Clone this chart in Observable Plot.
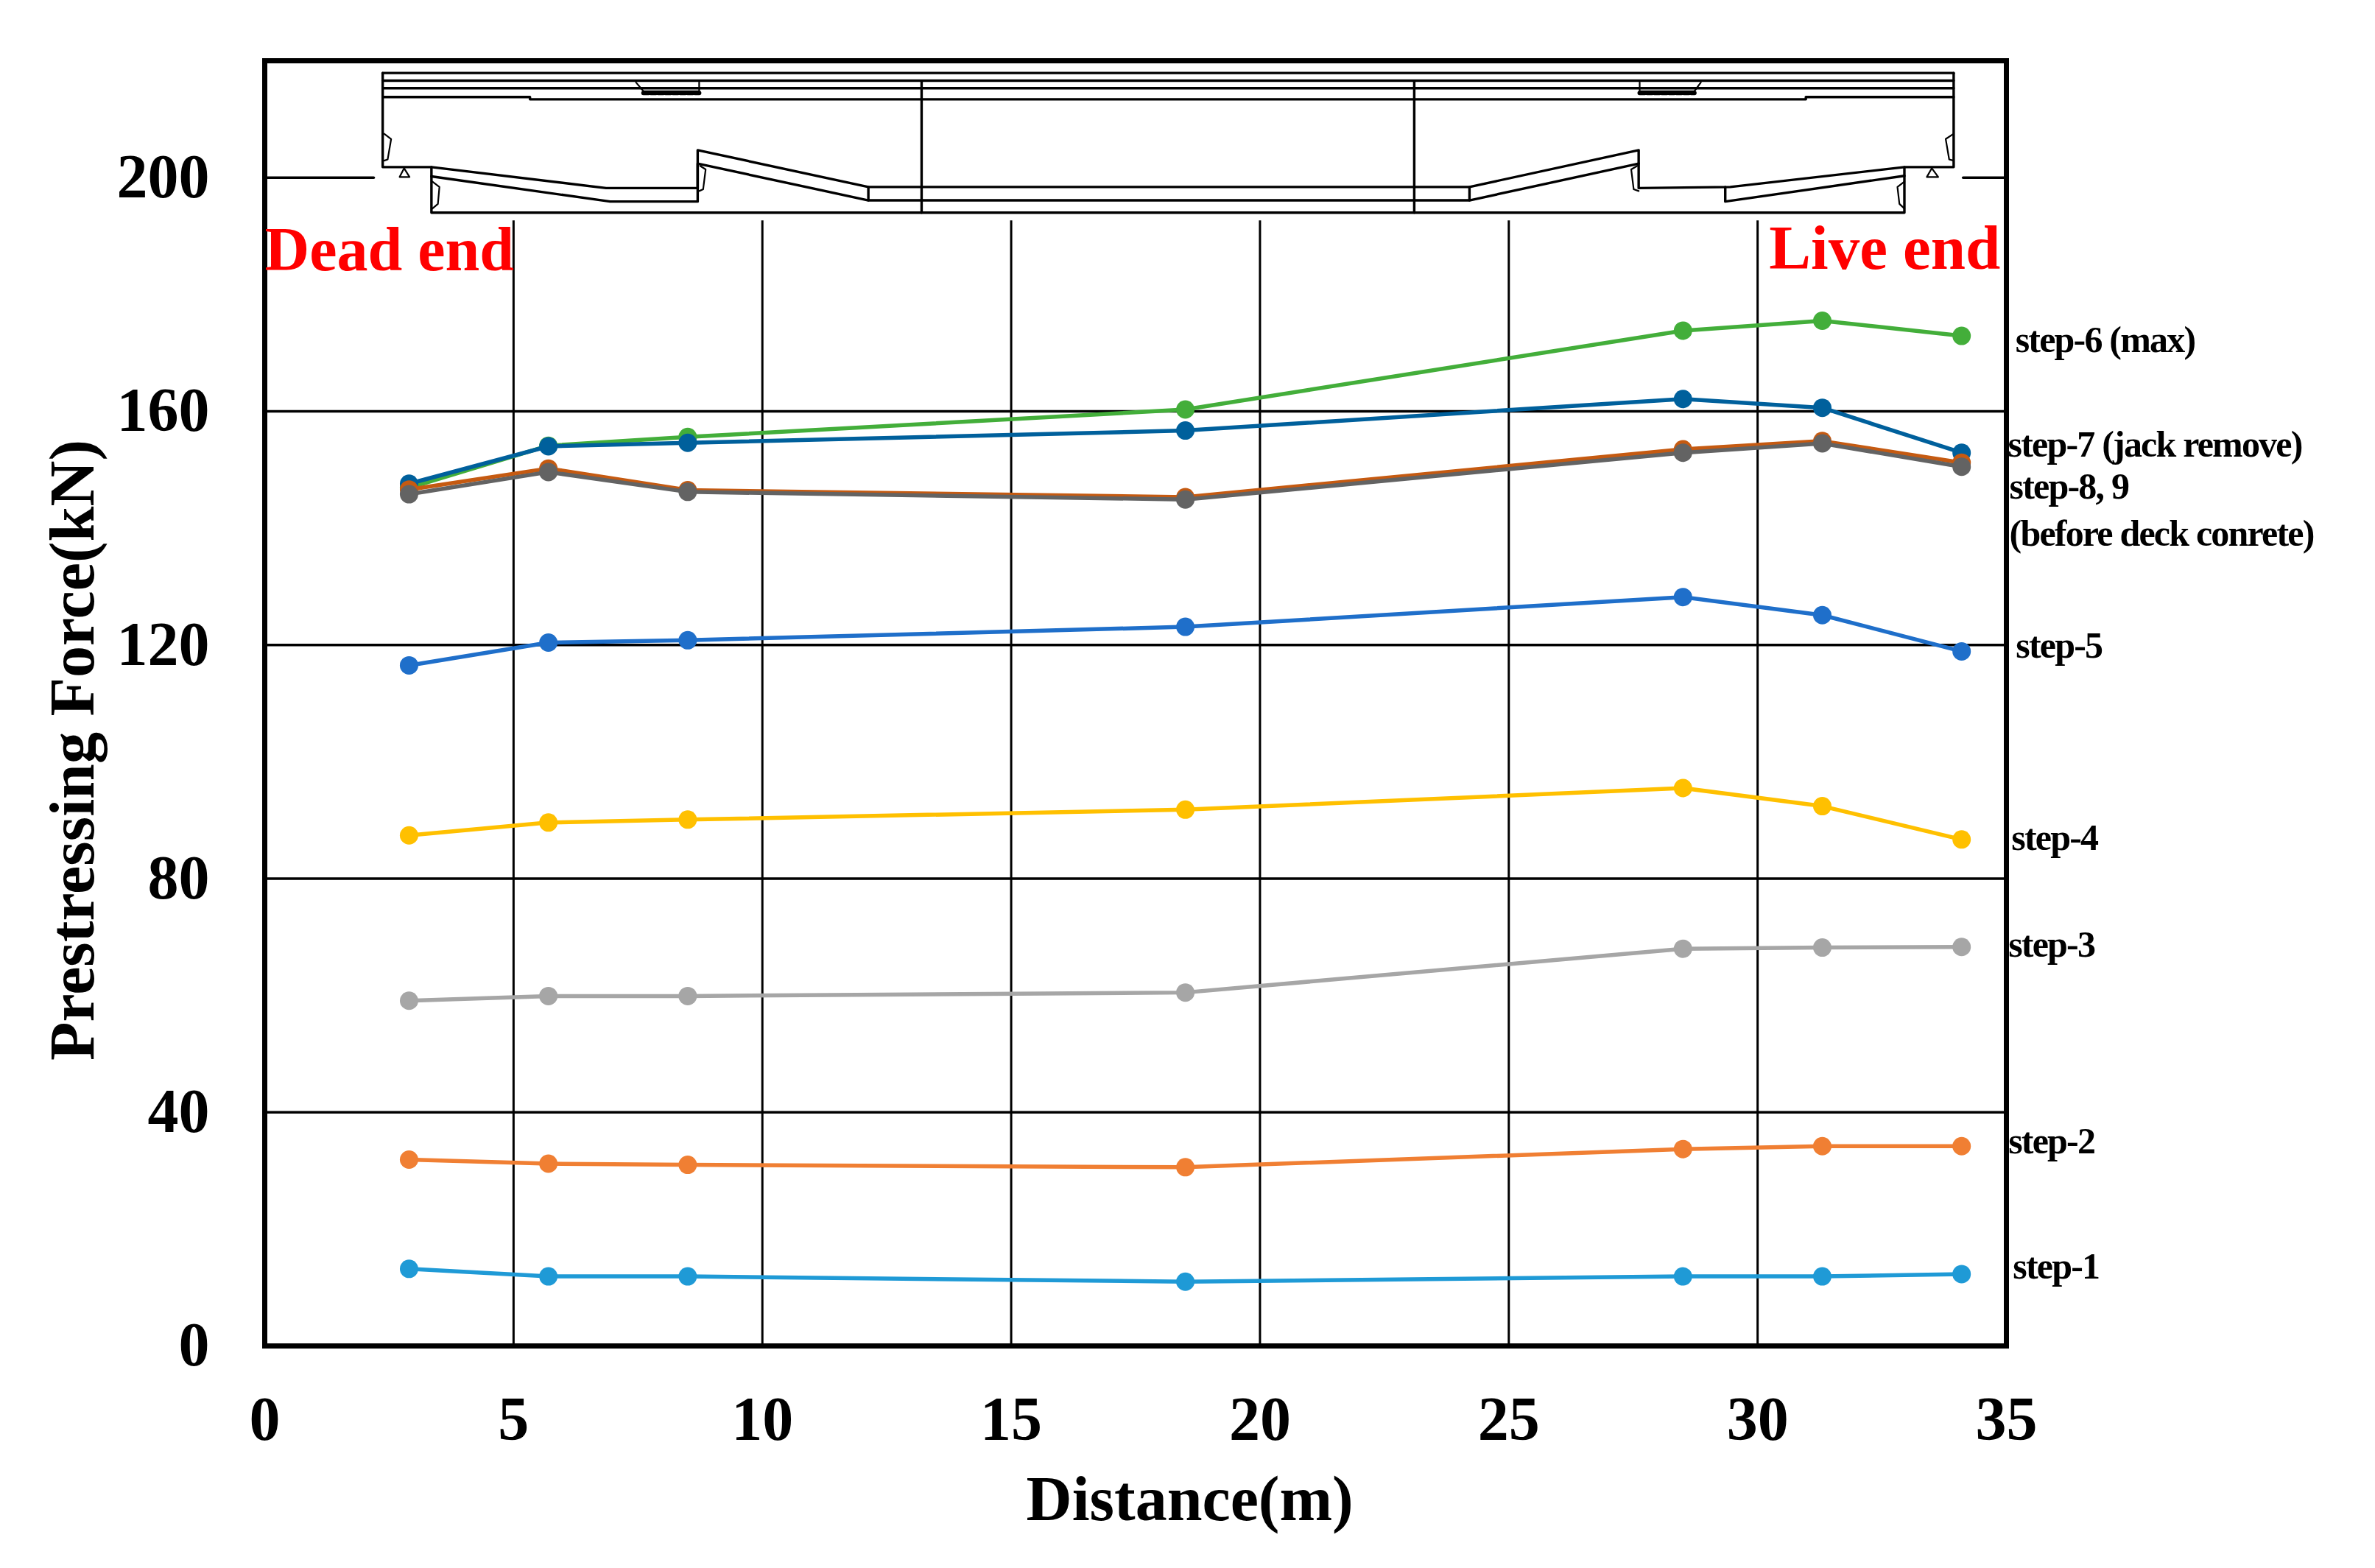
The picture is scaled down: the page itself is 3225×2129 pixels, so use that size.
<!DOCTYPE html>
<html><head><meta charset="utf-8">
<script src="https://cdn.jsdelivr.net/npm/d3@7"></script>
<script src="https://cdn.jsdelivr.net/npm/@observablehq/plot@0.6"></script>
<style>html,body{margin:0;padding:0;background:#fff}svg{display:block}</style>
</head><body><div id="chart"></div>
<script>
const distance = [2.9, 5.7, 8.5, 18.5, 28.5, 31.3, 34.1];
const step1 = [13.2, 11.9, 11.9, 11.0, 11.9, 11.9, 12.3];
const step2 = [31.9, 31.2, 31.0, 30.6, 33.7, 34.2, 34.2];
const step3 = [59.1, 59.9, 59.9, 60.5, 68.0, 68.2, 68.3];
const step4 = [87.4, 89.6, 90.1, 91.8, 95.5, 92.4, 86.7];
const step5 = [116.5, 120.4, 120.8, 123.1, 128.2, 125.1, 118.9];
const step6 = [146.9, 154.1, 155.6, 160.3, 173.8, 175.5, 172.9];
const step7 = [147.6, 154.0, 154.6, 156.7, 162.1, 160.6, 152.9];
const step8 = [146.6, 150.2, 146.5, 145.3, 153.5, 154.9, 151.2];
const step9 = [145.8, 149.6, 146.2, 144.9, 152.9, 154.5, 150.5];

const seriesValues = [step1, step2, step3, step4, step5, step6, step7, step8, step9];
const seriesColors = ["#1f9ad6", "#f07f33", "#a6a6a6", "#ffc000", "#1f6fca", "#43ae3a", "#00609c", "#c55a11", "#636363"];

const xTicks = [0, 5, 10, 15, 20, 25, 30, 35];
const yTicks = [0, 40, 80, 120, 160, 200];
const gridX = [5, 10, 15, 20, 25, 30];
const gridY = [40, 80, 120, 160];

const stepLabels = ["step-6 (max)", "step-7 (jack remove)", "step-8, 9", "(before deck conrete)", "step-5", "step-4", "step-3", "step-2", "step-1"];
const stepLabelX = [35.18, 35.03, 35.06, 35.06, 35.19, 35.1, 35.04, 35.04, 35.13];
const stepLabelY = [172.2, 154.3, 147.1, 139.0, 119.8, 86.9, 68.7, 35.0, 13.5];

// Girder outline (distance in m, height on the force axis)
const girderLines = [
  [[2.37,217.9],[33.94,217.9]],
  [[2.37,216.6],[33.94,216.6]],
  [[2.37,215.3],[33.94,215.3]],
  [[2.37,213.8],[5.33,213.8],[5.33,213.4],[30.97,213.4],[30.97,213.8],[33.94,213.8]],
  [[2.37,217.9],[2.37,201.8],[3.35,201.8],[3.35,194.0],[32.95,194.0],[32.95,201.8],[33.94,201.8],[33.94,217.9]],
  [[3.35,201.8],[6.86,198.2],[8.70,198.2],[8.70,204.7],[12.13,198.4],[24.21,198.4],[27.61,204.7],[27.61,198.2],[29.45,198.4],[32.95,201.8]],
  [[3.35,200.2],[6.94,195.9],[8.70,195.9],[8.70,202.4],[12.13,196.1],[24.21,196.1],[27.61,202.4]],
  [[29.35,198.4],[29.35,195.9],[32.95,200.3]],
  [[12.13,198.4],[12.13,196.1]],
  [[24.21,198.4],[24.21,196.1]],
  [[13.2,216.5],[13.2,194.0]],
  [[23.1,216.5],[23.1,194.0]]
];
const girderDetails = [
  [[2.40,207.5],[2.54,206.6],[2.47,203.1],[2.40,202.9]],
  [[3.37,199.3],[3.51,198.4],[3.48,195.5],[3.37,194.7]],
  [[8.75,202.0],[8.86,201.4],[8.81,198.0],[8.73,197.7]],
  [[2.80,201.6],[2.71,200.1],[2.91,200.1],[2.80,201.6]],
  [[33.94,207.5],[33.78,206.6],[33.85,203.1],[33.94,202.9]],
  [[32.95,199.3],[32.81,198.4],[32.85,195.5],[32.95,194.7]],
  [[27.58,202.0],[27.46,201.4],[27.51,198.0],[27.61,197.7]],
  [[33.50,201.6],[33.40,200.1],[33.63,200.1],[33.50,201.6]],
  [[7.46,216.3],[7.61,214.8],[8.73,214.8],[8.73,216.3]],
  [[27.63,216.3],[27.63,214.8],[28.73,214.8],[28.86,216.3]]
];
const girderHatch = [
  [[7.61,214.5],[8.73,214.5]],
  [[27.63,214.5],[28.73,214.5]]
];
const supportLine = [
  [[0,200],[2.19,200]],
  [[34.13,200],[35,200]]
];

const serif = "'Liberation Serif', 'Times New Roman', serif";
const rows = seriesValues.flatMap((v, s) => v.map((f, i) => ({x: distance[i], y: f, s})));
const segs = (lines) => lines.flatMap((l, k) => l.map(([x, y]) => ({x, y, k})));

const series = seriesValues.flatMap((v, s) => {
  const d = rows.filter(r => r.s === s);
  return [
    Plot.line(d, {x: "x", y: "y", stroke: seriesColors[s], strokeWidth: 5.5}),
    Plot.dot(d, {x: "x", y: "y", r: 12.5, fill: seriesColors[s], stroke: "none"})
  ];
});

const svg = Plot.plot({
  width: 3225, height: 2129,
  marginLeft: 359, marginRight: 501, marginTop: 82, marginBottom: 302,
  style: {fontFamily: serif, background: "#fff", overflow: "visible"},
  x: {domain: [0, 35], label: null},
  y: {domain: [0, 220], label: null},
  marks: [
    Plot.ruleY(gridY, {stroke: "#000", strokeWidth: 3.5}),
    Plot.ruleX(gridX, {y1: 0, y2: 192.6, stroke: "#000", strokeWidth: 3}),
    Plot.line(segs(supportLine), {x: "x", y: "y", z: "k", stroke: "#000", strokeWidth: 3.5}),
    Plot.line(segs(girderLines), {x: "x", y: "y", z: "k", stroke: "#000", strokeWidth: 3.4}),
    Plot.line(segs(girderDetails), {x: "x", y: "y", z: "k", stroke: "#000", strokeWidth: 2.2}),
    Plot.line(segs(girderHatch), {x: "x", y: "y", z: "k", stroke: "#000", strokeWidth: 6, strokeDasharray: "7 3"}),
    ...series,
    Plot.frame({stroke: "#000", strokeWidth: 7}),
    Plot.axisX({ticks: xTicks, tickSize: 0, tickPadding: 68, fontSize: 84, fontWeight: "bold", fontFamily: serif, label: null, fill: "#000"}),
    Plot.axisY({ticks: yTicks, tickSize: 0, tickPadding: 75, fontSize: 84, fontWeight: "bold", fontFamily: serif, label: null, fill: "#000"}),
    Plot.text(["Distance(m)"], {x: [18.59], y: [-26.4], text: d => d, fontSize: 86, fontWeight: "bold", fontFamily: serif, fill: "#000"}),
    Plot.text(["Prestressing Force(kN)"], {x: [-3.85], y: [102], text: d => d, rotate: -90, fontSize: 86, fontWeight: "bold", fontFamily: serif, fill: "#000"}),
    Plot.text(["Dead end"], {x: [0], y: [187.5], text: d => d, textAnchor: "start", fontSize: 84, fontWeight: "bold", fontFamily: serif, fill: "#ff0000"}),
    Plot.text(["Live end"], {x: [34.88], y: [187.8], text: d => d, textAnchor: "end", fontSize: 85, fontWeight: "bold", fontFamily: serif, fill: "#ff0000"}),
    Plot.text(stepLabels, {x: stepLabelX, y: stepLabelY, text: d => d, textAnchor: "start", fontSize: 50, fontWeight: "bold", fontFamily: serif, fill: "#000"})
  ]
});
d3.select(svg).selectAll("text").filter(function () { return stepLabels.includes(this.textContent); }).attr("letter-spacing", -1.8);
document.getElementById("chart").append(svg);
</script></body></html>
